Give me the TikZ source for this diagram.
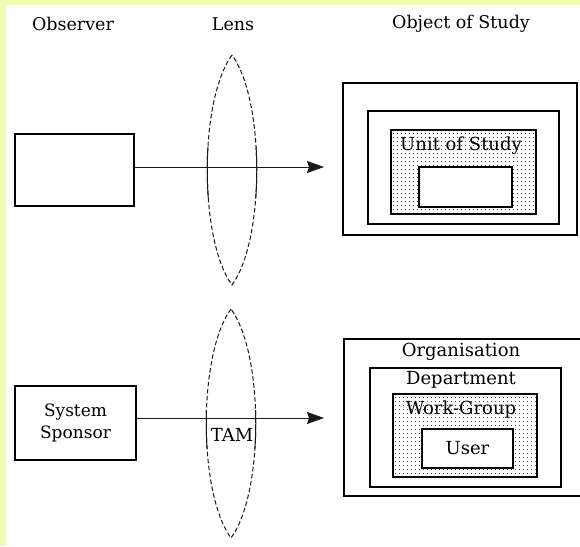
\documentclass[tikz,border=0pt]{standalone}
\usepackage{fontspec}
\setmainfont{DejaVu Serif}
\usetikzlibrary{arrows.meta}
\definecolor{bgyellow}{RGB}{240,252,178}
\tikzset{
  lbl/.style={font=\fontsize{17.5}{20}\selectfont, inner sep=0pt},
  inlbl/.style={font=\fontsize{18}{20}\selectfont, inner sep=0pt},
  box/.style={draw=black, line width=1.1pt, rectangle, inner sep=0pt, fill=white},
  dotbox/.style={draw=black, line width=1.1pt, rectangle, inner sep=0pt, fill=white},
  dotmark/.style={fill=black!70},
  lensline/.style={draw=black!90, line width=1pt, dash pattern=on 4.5pt off 2.5pt},
  lenssolid/.style={draw=black!90, line width=1pt},
  conn/.style={draw=black!90, line width=1pt, -{Stealth[length=17pt,width=12pt,inset=2pt]}}
}
\begin{document}
\begin{tikzpicture}[x=1pt,y=-1pt]
\useasboundingbox (0,0) rectangle (580,546);
\fill[bgyellow] (0,0) rectangle (580,546);
\fill[white] (6,5) rectangle (580,546);

% headings
\node[lbl] (hobs) at (73,24) {Observer};
\node[lbl] (hlens) at (233,24) {Lens};
\node[lbl] (hobj) at (461,24) {Object of Study};

% ---------- top row ----------
\node[box, minimum width=119pt, minimum height=72pt] (obs) at (74.5,170) {};
\coordinate (tipA) at (324,167);

% lens A
\draw[lensline] (232,55) .. controls (199,100) and (199,240) .. (232,285)
                 .. controls (265,240) and (265,100) .. (232,55);
\begin{scope}
\clip (150,147) rectangle (300,197);
\draw[lenssolid] (232,55) .. controls (199,100) and (199,240) .. (232,285)
                 .. controls (265,240) and (265,100) .. (232,55);
\end{scope}

\draw[conn] (obs.east |- tipA) -- (tipA);

\node[box, minimum width=234pt, minimum height=152pt] (outerA) at (460,159) {};
\node[box, minimum width=191pt, minimum height=113pt] (midA) at (463.5,167.5) {};
\node[dotbox, minimum width=145pt, minimum height=84pt] (dotA) at (463.5,172) {};
\begin{scope}
\clip (393,132) rectangle (534.5,212.5);
\foreach \x in {393,397,...,537} {
  \foreach \y in {133,137,...,213} {
    \fill[dotmark] (\x,\y) rectangle ++(1.1,1.1);
  }
}
\end{scope}
\node[box, minimum width=93pt, minimum height=40pt] (innerA) at (465.5,187) {};
\node[inlbl] (unit) at (461,146) {Unit of Study};

% ---------- bottom row ----------
\node[box, minimum width=121pt, minimum height=74pt, align=center,
      font=\fontsize{17}{22}\selectfont] (sponsor) at (75.5,423) {System\\Sponsor};
\coordinate (tipB) at (324,418);

% lens B
\draw[lensline] (231,309) .. controls (198,354) and (198,493) .. (231,538)
                 .. controls (264,493) and (264,354) .. (231,309);
\begin{scope}
\clip (150,410) rectangle (300,448);
\draw[lenssolid] (231,309) .. controls (198,354) and (198,493) .. (231,538)
                 .. controls (264,493) and (264,354) .. (231,309);
\end{scope}

\draw[conn] (sponsor.east |- tipB) -- (tipB);
\node[inlbl] (tam) at (232,435) {TAM};

\node[box, minimum width=246pt, minimum height=157pt] (outerB) at (467,417.5) {};
\node[inlbl] (org) at (461,352) {Organisation};
\node[box, minimum width=191pt, minimum height=119pt] (midB) at (465.5,427.5) {};
\node[inlbl] (dept) at (461,380) {Department};
\node[dotbox, minimum width=144pt, minimum height=83pt] (dotB) at (465,435.5) {};
\begin{scope}
\clip (395,396) rectangle (535.5,475.5);
\foreach \x in {395,399,...,539} {
  \foreach \y in {397,401,...,477} {
    \fill[dotmark] (\x,\y) rectangle ++(1.1,1.1);
  }
}
\end{scope}
\node[inlbl] (wg) at (461,410) {Work-Group};
\node[box, minimum width=91pt, minimum height=39pt, font=\fontsize{18}{20}\selectfont] (user) at (467.5,448.5) {User};
\end{tikzpicture}
\end{document}
